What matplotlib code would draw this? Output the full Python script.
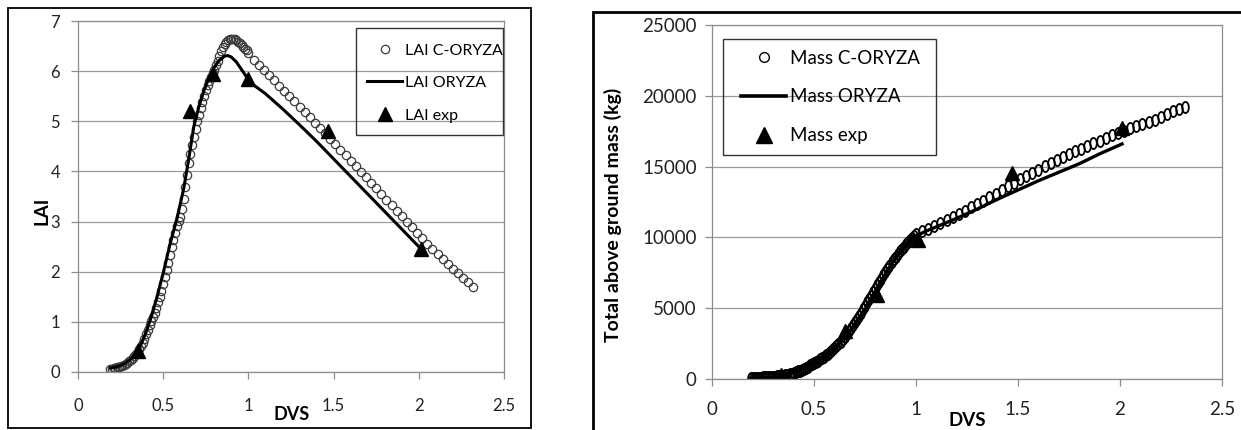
import matplotlib
matplotlib.use('Agg')
import matplotlib.pyplot as plt
from matplotlib.lines import Line2D
from matplotlib.patches import Rectangle
from matplotlib.path import Path
from matplotlib.transforms import Affine2D

plt.rcParams['font.family'] = ['Lato', 'DejaVu Sans']

# C-ORYZA simulation (same DVS steps for both panels)
dvs_c = [0.19, 0.20, 0.21, 0.22, 0.23, 0.24, 0.25, 0.26, 0.27, 0.28,
         0.29, 0.30, 0.31, 0.32, 0.33, 0.34, 0.35, 0.36, 0.37, 0.38,
         0.39, 0.40, 0.41, 0.42, 0.43, 0.44, 0.45, 0.46, 0.47, 0.48,
         0.49, 0.50, 0.51, 0.52, 0.53, 0.54, 0.55, 0.56, 0.57, 0.58,
         0.59, 0.60, 0.61, 0.62, 0.63, 0.64, 0.65, 0.66, 0.67, 0.68,
         0.69, 0.70, 0.71, 0.72, 0.73, 0.74, 0.75, 0.76, 0.77, 0.78,
         0.79, 0.80, 0.81, 0.82, 0.83, 0.84, 0.85, 0.86, 0.87, 0.88,
         0.89, 0.90, 0.91, 0.92, 0.93, 0.94, 0.95, 0.96, 0.97, 0.98,
         0.99, 1.00, 1.03, 1.06, 1.09, 1.12, 1.15, 1.18, 1.21, 1.24,
         1.27, 1.30, 1.33, 1.36, 1.39, 1.42, 1.45, 1.48, 1.51, 1.54,
         1.57, 1.60, 1.63, 1.66, 1.69, 1.72, 1.75, 1.78, 1.81, 1.84,
         1.87, 1.90, 1.93, 1.96, 1.99, 2.02, 2.05, 2.08, 2.11, 2.14,
         2.17, 2.20, 2.23, 2.26, 2.29, 2.32]
lai_c = [0.05, 0.06, 0.07, 0.08, 0.09, 0.10, 0.11, 0.12, 0.14, 0.16,
         0.18, 0.21, 0.24, 0.27, 0.31, 0.35, 0.40, 0.45, 0.51, 0.58,
         0.66, 0.75, 0.84, 0.93, 1.02, 1.10, 1.18, 1.28, 1.39, 1.50,
         1.62, 1.75, 1.89, 2.03, 2.18, 2.34, 2.50, 2.64, 2.78, 2.92,
         3.01, 3.10, 3.25, 3.45, 3.68, 3.92, 4.17, 4.35, 4.52, 4.69,
         4.85, 5.00, 5.13, 5.26, 5.38, 5.51, 5.63, 5.72, 5.81, 5.89,
         5.96, 6.03, 6.12, 6.21, 6.30, 6.40, 6.48, 6.54, 6.59, 6.62,
         6.64, 6.65, 6.65, 6.64, 6.62, 6.59, 6.56, 6.52, 6.48, 6.45,
         6.42, 6.37, 6.23, 6.12, 6.02, 5.92, 5.82, 5.71, 5.61, 5.50,
         5.40, 5.29, 5.18, 5.08, 4.97, 4.86, 4.76, 4.65, 4.54, 4.43,
         4.32, 4.21, 4.10, 3.99, 3.88, 3.77, 3.66, 3.55, 3.44, 3.33,
         3.22, 3.11, 3.00, 2.89, 2.78, 2.67, 2.56, 2.46, 2.36, 2.26,
         2.16, 2.06, 1.97, 1.88, 1.79, 1.70]
mass_c = [80, 85, 90, 95, 100, 105, 110, 115, 120, 130,
          140, 150, 165, 180, 200, 220, 245, 270, 300, 340,
          380, 430, 480, 540, 600, 660, 730, 800, 880, 960,
          1040, 1120, 1200, 1290, 1380, 1480, 1580, 1690, 1800, 1920,
          2050, 2180, 2320, 2470, 2630, 2800, 2980, 3170, 3370, 3580,
          3790, 4010, 4230, 4460, 4690, 4930, 5170, 5410, 5650, 5890,
          6130, 6370, 6610, 6850, 7090, 7330, 7560, 7790, 8010, 8230,
          8440, 8640, 8830, 9010, 9180, 9340, 9500, 9650, 9800, 9950,
          10100, 10250, 10450, 10620, 10800, 11000, 11200, 11420, 11650, 11880,
          12120, 12360, 12600, 12850, 13100, 13350, 13600, 13850, 14100, 14330,
          14560, 14790, 15010, 15230, 15450, 15660, 15870, 16070, 16270, 16460,
          16650, 16840, 17020, 17200, 17370, 17540, 17700, 17860, 18010, 18160,
          18310, 18500, 18700, 18900, 19100, 19200]

# ORYZA simulation
dvs_o_lai = [0.19, 0.22, 0.25, 0.28, 0.31, 0.34, 0.37, 0.40, 0.43, 0.46,
             0.50, 0.54, 0.58, 0.62, 0.65, 0.68, 0.71, 0.74, 0.77, 0.80,
             0.83, 0.86, 0.88, 0.90, 0.93, 0.96, 0.99, 1.02, 1.06, 1.10,
             1.20, 1.30, 1.40, 1.50, 1.60, 1.70, 1.80, 1.90, 2.00]
lai_o = [0.08, 0.10, 0.13, 0.18, 0.26, 0.37, 0.55, 0.80, 1.10, 1.45,
         1.97, 2.55, 3.05, 3.65, 4.25, 4.90, 5.30, 5.62, 5.88, 6.08,
         6.22, 6.30, 6.31, 6.28, 6.18, 6.03, 5.88, 5.75, 5.65, 5.55,
         5.25, 4.93, 4.60, 4.25, 3.90, 3.55, 3.20, 2.85, 2.50]
dvs_o_mass = [0.19, 0.25, 0.30, 0.35, 0.40, 0.45, 0.50, 0.55, 0.60, 0.65,
              0.70, 0.75, 0.80, 0.85, 0.90, 0.95, 1.00, 1.05, 1.10, 1.20,
              1.30, 1.40, 1.50, 1.60, 1.70, 1.80, 1.90, 2.01]
mass_o = [60, 80, 130, 250, 450, 750, 1100, 1550, 2150, 2900,
          3800, 4900, 6150, 7400, 8600, 9500, 10100, 10450, 10750, 11350,
          12000, 12700, 13350, 14000, 14600, 15200, 15900, 16600]

# Experimental
dvs_exp_lai = [0.35, 0.66, 0.79, 1.00, 1.47, 2.01]
lai_exp = [0.42, 5.20, 5.95, 5.85, 4.80, 2.45]
dvs_exp_mass = [0.34, 0.65, 0.81, 1.01, 1.47, 2.01]
mass_exp = [250, 3400, 5950, 9850, 14550, 17750]

W, H = 1241, 430
fig = plt.figure(figsize=(W / 100, H / 100), dpi=100)


def fx(px):
    return px / W


def fy(py):
    return 1 - py / H


def style_axes(ax, size, xpad, ypad):
    for s in ax.spines.values():
        s.set_color('#8c8c8c')
        s.set_linewidth(0.9)
    ax.grid(axis='y', color='#9a9a9a', linewidth=0.9)
    ax.set_axisbelow(True)
    ax.tick_params(axis='both', direction='out', length=5, width=0.9,
                   color='#8c8c8c', labelsize=size, labelcolor='#222222')
    ax.tick_params(axis='x', pad=xpad)
    ax.tick_params(axis='y', pad=ypad)
    ax.set_xlim(0, 2.5)
    ax.set_xticks([0, 0.5, 1, 1.5, 2, 2.5])
    ax.set_xticklabels(['0', '0.5', '1', '1.5', '2', '2.5'])


# outer frames
fig.patches.append(Rectangle((fx(8), fy(428)), fx(523), 420 / H, transform=fig.transFigure,
                             fill=False, edgecolor='black', linewidth=1.3))
fig.patches.append(Rectangle((fx(593), fy(440)), fx(700), 428 / H, transform=fig.transFigure,
                             fill=False, edgecolor='black', linewidth=2))

# LAI panel
ax1 = fig.add_axes([fx(78), fy(372), fx(504 - 78), (372 - 21) / H])
style_axes(ax1, 12, 14, 8)
ax1.set_ylim(0, 7)
ax1.set_yticks(range(0, 8))
ax1.plot(dvs_c, lai_c, 'o', ms=6, mfc='none', mec='#3c3c3c', mew=0.9)
ax1.plot(dvs_o_lai, lai_o, color='black', lw=2.2)
ax1.plot(dvs_exp_lai, lai_exp, '^', ms=10, color='black')
fig.text(fx(42), fy(211), 'LAI', rotation=90, ha='center', va='center',
         fontsize=13.5, fontweight='bold')
fig.text(fx(292), fy(415), 'DVS', ha='center', va='center',
         fontsize=13, fontweight='bold')

h1 = [Line2D([], [], marker='o', ls='none', ms=6, mfc='none', mec='#3c3c3c', mew=0.9),
      Line2D([], [], color='black', lw=2.2),
      Line2D([], [], marker='^', ls='none', ms=10, color='black')]
leg1 = ax1.legend(h1, ['LAI C-ORYZA', 'LAI ORYZA', 'LAI exp'], loc='center left',
                  bbox_to_anchor=(fx(367), fy(83)), bbox_transform=fig.transFigure,
                  frameon=False, borderpad=0, borderaxespad=0, fontsize=11.5,
                  handlelength=2.2, handletextpad=0.15, labelspacing=1.15)
fig.patches.append(Rectangle((fx(356), fy(135)), fx(147), 107 / H, transform=fig.transFigure,
                             fill=False, edgecolor='#333333', linewidth=1))

# Mass panel
ellipse = Affine2D().scale(0.6, 1).transform_path(Path.unit_circle())
ax2 = fig.add_axes([fx(712), fy(379), fx(1222 - 712), (379 - 25) / H])
style_axes(ax2, 13.5, 11, 6)
ax2.set_ylim(0, 25000)
ax2.set_yticks(range(0, 25001, 5000))
ax2.plot(dvs_c, mass_c, ls='none', marker=ellipse, ms=8, mfc='none', mec='black', mew=1.3)
ax2.plot(dvs_o_mass, mass_o, color='black', lw=2.4)
ax2.plot(dvs_exp_mass, mass_exp, '^', ms=10, color='black')
fig.text(fx(613), fy(215), 'Total above ground mass (kg)', rotation=90,
         ha='center', va='center', fontsize=14, fontweight='bold')
fig.text(fx(967), fy(420), 'DVS', ha='center', va='center',
         fontsize=13.5, fontweight='bold')

h2 = [Line2D([], [], marker='o', ls='none', ms=7, mfc='none', mec='black', mew=1),
      Line2D([], [], color='black', lw=2.6),
      Line2D([], [], marker='^', ls='none', ms=11, color='black')]
leg2 = ax2.legend(h2, ['Mass C-ORYZA', 'Mass ORYZA', 'Mass exp'], loc='center left',
                  bbox_to_anchor=(fx(741), fy(97)), bbox_transform=fig.transFigure,
                  frameon=False, borderpad=0, borderaxespad=0, fontsize=13.5,
                  handlelength=2.4, handletextpad=0.2, labelspacing=1.15)
fig.patches.append(Rectangle((fx(723), fy(155)), fx(213), 116 / H, transform=fig.transFigure,
                             fill=False, edgecolor='#333333', linewidth=1))

fig.savefig('out.png', dpi=100)
